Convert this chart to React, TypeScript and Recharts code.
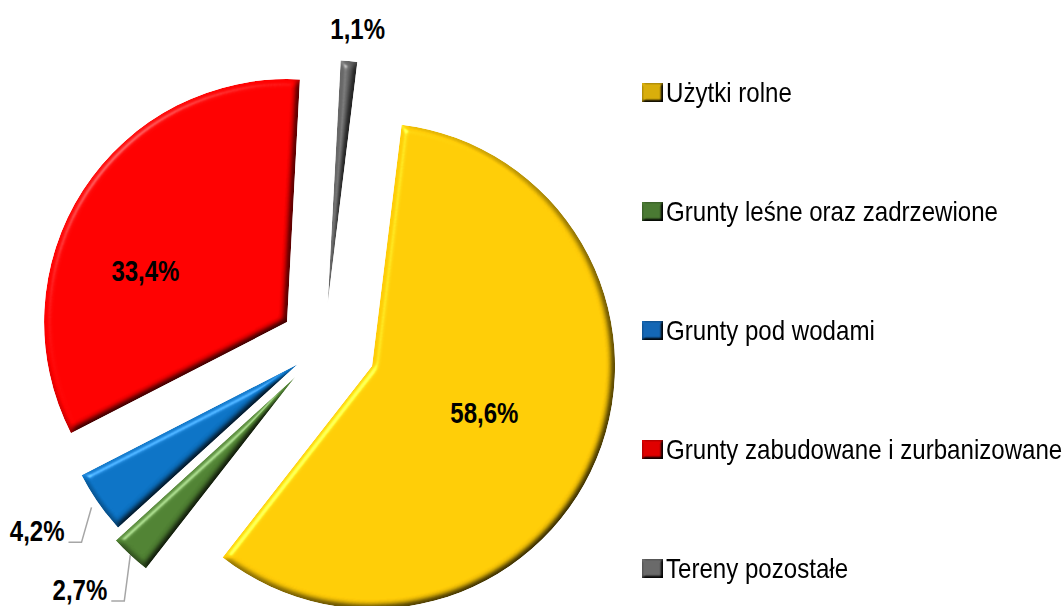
import { PieChart, Pie, Cell, Legend } from 'recharts';

const categories = [
  'Użytki rolne',
  'Grunty leśne oraz zadrzewione',
  'Grunty pod wodami',
  'Grunty zabudowane i zurbanizowane',
  'Tereny pozostałe',
];
const shares = [58.6, 2.7, 4.2, 33.4, 1.1];
const colors = ['#FFCB05', '#4F8132', '#0B72C4', '#FF0000', '#666666'];
const legendColors = ['#D9AE0B', '#4A7A33', '#1467B5', '#E00000', '#6A6A6A'];
// how far each slice is pulled out of the pie
const explode = [52, 42, 32, 44, 43];

const data = categories.map((name, i) => ({ name, value: shares[i] }));

const CX = 324;
const CY = 346;
const R = 243;
const START = 83;
const RAD = Math.PI / 180;
// no Arial Narrow here, so squeeze Liberation Sans horizontally
const FONT = "'Liberation Sans', Arial, sans-serif";
const NARROW = 0.8;

const labelCfg: any[] = [
  { mode: 'inside', r: 0.5, turn: 0 },
  { mode: 'leader', start: 0, dx: -6, dy: 46 },
  { mode: 'leader', start: 8, dx: -10, dy: 35 },
  { mode: 'inside', r: 0.62, turn: 13 },
  { mode: 'outside', gap: 33, turn: -1.2 },
];

const total = shares.reduce((a, b) => a + b, 0);
const midAngles = (() => {
  let acc = 0;
  return shares.map((v) => {
    const m = START - ((acc + v / 2) / total) * 360;
    acc += v;
    return m;
  });
})();

const fmt = (v: number) => `${v.toFixed(1).replace('.', ',')}%`;

const NarrowText = ({ x, y, anchor, baseline, children }: any) => (
  <text
    transform={`translate(${x},${y}) scale(${NARROW},1)`}
    textAnchor={anchor}
    dominantBaseline={baseline}
    style={{ fontFamily: FONT, fontWeight: 700, fontSize: 30, fill: '#000' }}
  >
    {children}
  </text>
);

const renderLabel = (i: number) => (p: any) => {
  if (p.index !== i) return <g />;
  const { cx, cy, midAngle, outerRadius } = p;
  const cfg = labelCfg[i];
  const at = (r: number, a = midAngle) => [cx + r * Math.cos(-a * RAD), cy + r * Math.sin(-a * RAD)];
  const txt = fmt(shares[i]);
  if (cfg.mode === 'inside') {
    const [x, y] = at(outerRadius * cfg.r, midAngle + cfg.turn);
    return <NarrowText x={x} y={y} anchor="middle" baseline="central">{txt}</NarrowText>;
  }
  if (cfg.mode === 'outside') {
    const [x, y] = at(outerRadius + cfg.gap, midAngle + cfg.turn);
    return <NarrowText x={x} y={y} anchor="middle" baseline="central">{txt}</NarrowText>;
  }
  const [sx, sy] = at(outerRadius + cfg.start);
  const ex = sx + cfg.dx;
  const ey = sy + cfg.dy;
  return (
    <g>
      <path d={`M${sx},${sy}L${ex},${ey}H${ex - 13}`} stroke="#A6A6A6" strokeWidth={1.5} fill="none" />
      <NarrowText x={ex - 17} y={ey - 1} anchor="end" baseline="alphabetic">{txt}</NarrowText>
    </g>
  );
};

const renderLegend = () => (
  <div style={{ fontFamily: FONT, fontSize: 28, color: '#000' }}>
    {categories.map((c, i) => (
      <div key={c} style={{ height: 119.1, display: 'flex', alignItems: 'center', whiteSpace: 'nowrap' }}>
        <svg width={21} height={19} style={{ marginRight: 3, flexShrink: 0 }}>
          <rect width={21} height={19} fill={legendColors[i]} filter="url(#bevelSmall)" />
        </svg>
        <span style={{ display: 'inline-block', transform: 'scaleX(0.86)', transformOrigin: 'left center' }}>
          {c}
        </span>
      </div>
    ))}
  </div>
);

export default function App() {
  return (
    <div style={{ position: 'absolute', left: 0, top: 0, background: '#fff' }}>
      <PieChart width={1063} height={606} margin={{ top: 0, right: 0, bottom: 0, left: 0 }}>
        <defs>
          <filter id="bevel" x="-5%" y="-5%" width="110%" height="110%" colorInterpolationFilters="sRGB">
            <feGaussianBlur in="SourceAlpha" stdDeviation="3.5" result="blur" />
            <feDiffuseLighting in="blur" surfaceScale="5" diffuseConstant="1" lightingColor="#ffffff" result="diff">
              <feDistantLight azimuth={225} elevation={60} />
            </feDiffuseLighting>
            <feComponentTransfer in="diff" result="diffN">
              <feFuncR type="linear" slope="1.155" />
              <feFuncG type="linear" slope="1.155" />
              <feFuncB type="linear" slope="1.155" />
            </feComponentTransfer>
            <feComposite in="SourceGraphic" in2="diffN" operator="arithmetic" k1="1" k2="0" k3="0" k4="0" result="shaded" />
            <feSpecularLighting in="blur" surfaceScale="5" specularConstant="0.7" specularExponent="30" lightingColor="#ffffff" result="spec">
              <feDistantLight azimuth={225} elevation={35} />
            </feSpecularLighting>
            <feComposite in="spec" in2="SourceAlpha" operator="in" result="specIn" />
            <feComposite in="shaded" in2="specIn" operator="arithmetic" k1="0" k2="1" k3="0.5" k4="0" result="lit" />
            <feComposite in="lit" in2="SourceAlpha" operator="in" />
          </filter>
          <filter id="bevelSmall" x="-10%" y="-10%" width="120%" height="120%" colorInterpolationFilters="sRGB">
            <feGaussianBlur in="SourceAlpha" stdDeviation="1.5" result="blur" />
            <feDiffuseLighting in="blur" surfaceScale="4" diffuseConstant="1" lightingColor="#ffffff" result="diff">
              <feDistantLight azimuth={225} elevation={60} />
            </feDiffuseLighting>
            <feComponentTransfer in="diff" result="diffN">
              <feFuncR type="linear" slope="1.155" />
              <feFuncG type="linear" slope="1.155" />
              <feFuncB type="linear" slope="1.155" />
            </feComponentTransfer>
            <feComposite in="SourceGraphic" in2="diffN" operator="arithmetic" k1="1" k2="0" k3="0" k4="0" result="shaded" />
            <feComposite in="shaded" in2="SourceAlpha" operator="in" />
          </filter>
        </defs>
        {data.map((_, i) => (
          <Pie
            key={i}
            data={data}
            dataKey="value"
            nameKey="name"
            cx={CX + explode[i] * Math.cos(-midAngles[i] * RAD)}
            cy={CY + explode[i] * Math.sin(-midAngles[i] * RAD)}
            outerRadius={R}
            startAngle={START}
            endAngle={START - 360}
            stroke="none"
            legendType="none"
            labelLine={false}
            label={renderLabel(i)}
            isAnimationActive={false}
          >
            {data.map((d, j) => (
              <Cell
                key={d.name}
                fill={j === i ? colors[j] : 'none'}
                filter={j === i ? 'url(#bevel)' : undefined}
              />
            ))}
          </Pie>
        ))}
        <Legend
          layout="vertical"
          align="right"
          verticalAlign="top"
          content={renderLegend}
          wrapperStyle={{ left: 642, top: 33, width: 421 }}
        />
      </PieChart>
    </div>
  );
}
